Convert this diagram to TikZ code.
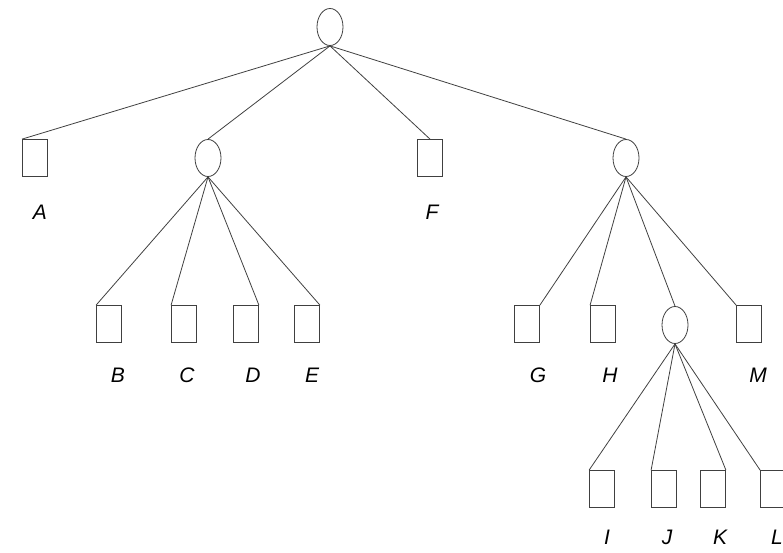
\documentclass[tikz,border=0pt]{standalone}
\usepackage{fontspec}
\setsansfont{Liberation Sans}
\usetikzlibrary{shapes.geometric}

\tikzset{
  leaf/.style={draw, black!75, line width=0.8pt, minimum width=25pt, minimum height=37pt, inner sep=0pt},
  fork/.style={draw, ellipse, black!75, line width=0.8pt, minimum width=26pt, minimum height=37pt, inner sep=0pt},
  tag/.style={font=\sffamily\itshape\fontsize{21}{21}\selectfont, inner sep=0pt},
  edge/.style={black!75, line width=0.8pt}
}

\begin{document}
\begin{tikzpicture}[x=1pt, y=-1pt]
  \useasboundingbox (0,0) rectangle (783,552);

  % Inner nodes
  \node[fork] (root) at (330,27) {};
  \node[fork] (left) at (208,158) {};
  \node[fork] (right) at (626,158) {};
  \node[fork] (mid) at (675,325) {};

  % Leaves and their letters
  \foreach \n/\x/\y in {A/35/158, F/430/158, B/109/324, C/184/324, D/246/324, E/307/324,
                        G/527/324, H/603/324, M/749/324, I/602/489, J/664/489, K/713/489, L/773/489}
    \node[leaf] (\n) at (\x,\y) {};
  \foreach \n/\x/\y in {A/40/212, F/432/212, B/118/375, C/187/375, D/253/375, E/312/375,
                        G/538/375, H/610/375, M/758/375, I/607/537, J/667/537, K/720/537, L/777/537}
    \node[tag] (l\n) at (\x,\y) {\n};

  % Branches
  \draw[edge] (root.south) -- (A.north west);
  \draw[edge] (root.south) -- (left.north);
  \draw[edge] (root.south) -- (F.north);
  \draw[edge] (root.south) -- (right.north);

  \draw[edge] (left.south) -- (B.north west);
  \draw[edge] (left.south) -- (C.north west);
  \draw[edge] (left.south) -- (D.north east);
  \draw[edge] (left.south) -- (E.north east);

  \draw[edge] (right.south) -- (G.north east);
  \draw[edge] (right.south) -- (H.north west);
  \draw[edge] (right.south) -- (mid.north);
  \draw[edge] (right.south) -- (M.north west);

  \draw[edge] (mid.south) -- (I.north west);
  \draw[edge] (mid.south) -- (J.north west);
  \draw[edge] (mid.south) -- (K.north east);
  \draw[edge] (mid.south) -- (L.north west);
\end{tikzpicture}
\end{document}
